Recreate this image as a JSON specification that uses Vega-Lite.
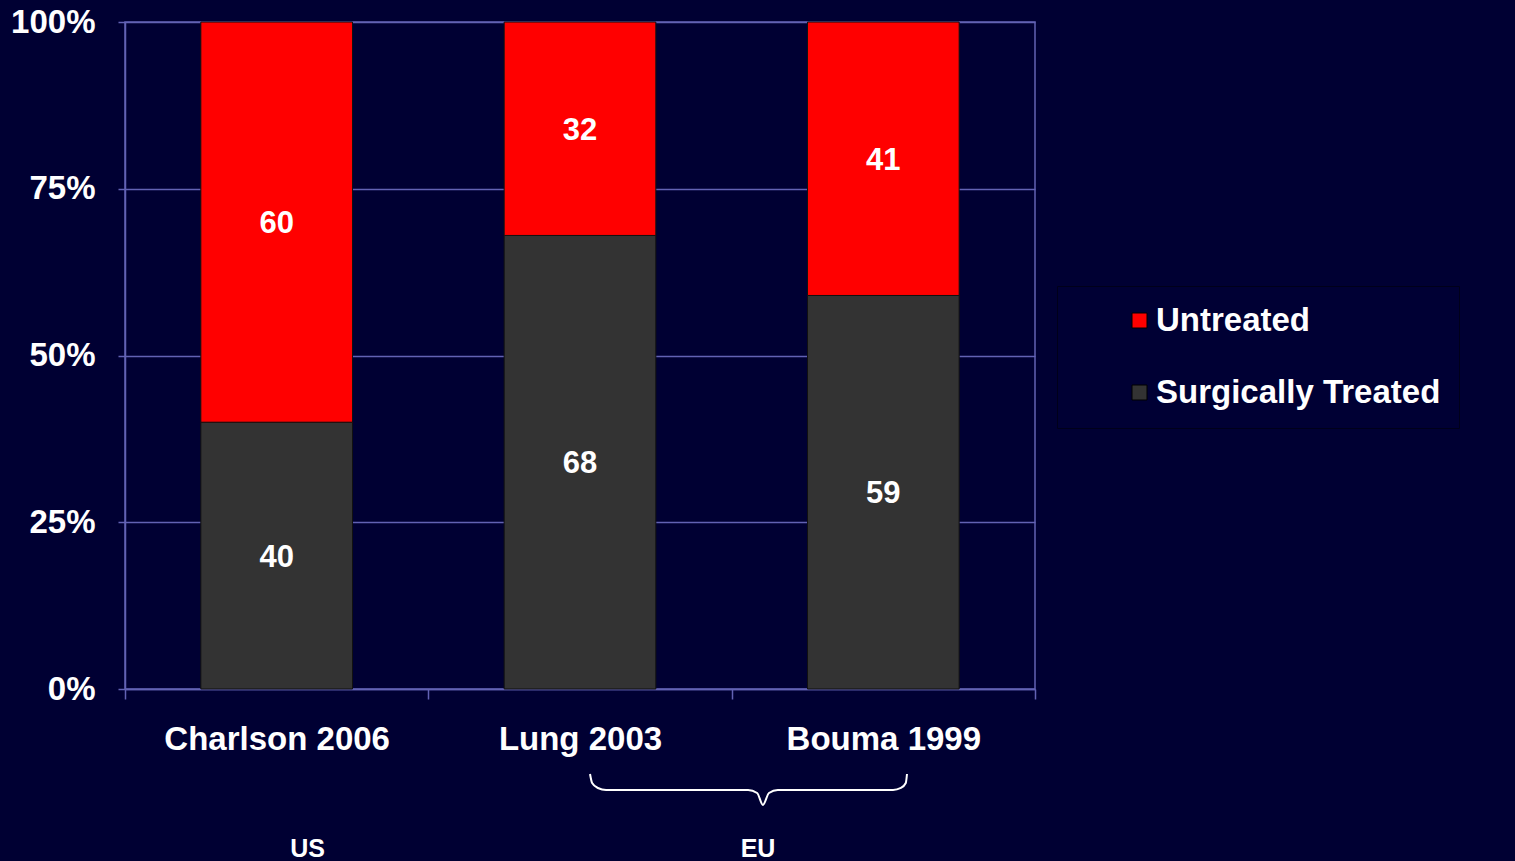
{
  "$schema": "https://vega.github.io/schema/vega-lite/v6.json",
  "width": 910,
  "height": 667,
  "autosize": {"type": "none"},
  "padding": {"left": 125, "top": 22, "right": 480, "bottom": 172},
  "background": "#000033",
  "config": {
    "font": "Liberation Sans",
    "view": {"stroke": "#6262b4", "strokeWidth": 1.5},
    "axis": {
      "labelColor": "#ffffff",
      "labelFont": "Liberation Sans",
      "labelFontWeight": "bold",
      "labelFontSize": 33,
      "domainColor": "#6262b4",
      "tickColor": "#6262b4",
      "gridColor": "#6262b4",
      "domainWidth": 1.5,
      "tickWidth": 1.5,
      "gridWidth": 1.5
    }
  },
  "datasets": {
    "shares": [
      {"study": "Charlson 2006", "category": "Surgically Treated", "pct": 40},
      {"study": "Charlson 2006", "category": "Untreated", "pct": 60},
      {"study": "Lung 2003", "category": "Surgically Treated", "pct": 68},
      {"study": "Lung 2003", "category": "Untreated", "pct": 32},
      {"study": "Bouma 1999", "category": "Surgically Treated", "pct": 59},
      {"study": "Bouma 1999", "category": "Untreated", "pct": 41}
    ],
    "bracket": [
      {"bx": 1.533, "by": -12.74},
      {"bx": 1.540, "by": -14.09},
      {"bx": 1.559, "by": -14.84},
      {"bx": 1.586, "by": -15.14},
      {"bx": 2.054, "by": -15.14},
      {"bx": 2.084, "by": -15.59},
      {"bx": 2.103, "by": -17.39},
      {"bx": 2.123, "by": -15.59},
      {"bx": 2.152, "by": -15.14},
      {"bx": 2.532, "by": -15.14},
      {"bx": 2.558, "by": -14.84},
      {"bx": 2.574, "by": -14.09},
      {"bx": 2.578, "by": -12.74}
    ],
    "regions": [
      {"region": "US", "rx": 0.602, "ry": -25.2},
      {"region": "EU", "rx": 2.087, "ry": -25.2}
    ]
  },
  "layer": [
    {
      "data": {"name": "shares"},
      "mark": {"type": "bar", "stroke": "#111111", "strokeWidth": 1, "width": {"band": 0.5}},
      "encoding": {
        "x": {
          "field": "study", "type": "nominal", "sort": null,
          "scale": {"paddingInner": 0, "paddingOuter": 0},
          "axis": {"title": null, "labelAngle": 0, "tickBand": "extent", "tickSize": 10, "labelPadding": 24, "grid": false, "labelLimit": 0}
        },
        "y": {
          "field": "pct", "type": "quantitative", "stack": "zero",
          "scale": {"domain": [0, 100], "nice": false},
          "axis": {"title": null, "values": [0, 25, 50, 75, 100], "labelExpr": "datum.value + '%'", "tickSize": 7, "labelPadding": 23, "grid": true}
        },
        "color": {
          "field": "category", "type": "nominal",
          "scale": {"domain": ["Untreated", "Surgically Treated"], "range": ["#ff0000", "#333333"]},
          "legend": {
            "title": null, "orient": "none", "legendX": 932, "legendY": 264,
            "padding": 18, "symbolOffset": 48, "symbolType": "square", "symbolSize": 225,
            "symbolStrokeColor": "#000000", "symbolStrokeWidth": 1,
            "labelFontSize": 33, "labelFont": "Liberation Sans", "labelFontWeight": "bold",
            "labelColor": "#ffffff", "labelOffset": 0, "rowPadding": 38,
            "strokeColor": "#00001a", "fillColor": "#000034", "labelLimit": 0
          }
        },
        "order": {"field": "category", "sort": "ascending"}
      }
    },
    {
      "data": {"name": "shares"},
      "transform": [
        {"stack": "pct", "groupby": ["study"], "sort": [{"field": "category", "order": "ascending"}], "as": ["y0", "y1"]},
        {"fold": ["y0", "y1"], "as": ["edge", "pos"]}
      ],
      "mark": {"type": "text", "color": "#ffffff", "font": "Liberation Sans", "fontWeight": "bold", "fontSize": 31, "baseline": "middle", "dy": 2},
      "encoding": {
        "x": {"field": "study", "type": "nominal", "sort": null, "scale": {"paddingInner": 0, "paddingOuter": 0}, "axis": null},
        "y": {
          "field": "pos", "aggregate": "mean", "type": "quantitative",
          "scale": {"domain": [0, 100], "nice": false},
          "axis": {"title": null, "values": [0, 25, 50, 75, 100], "labelExpr": "datum.value + '%'", "tickSize": 7, "labelPadding": 23, "grid": true}
        },
        "text": {"field": "pct", "type": "quantitative"},
        "detail": {"field": "category"}
      }
    },
    {
      "data": {"name": "bracket"},
      "mark": {"type": "line", "color": "#ffffff", "strokeWidth": 2, "interpolate": "monotone"},
      "encoding": {
        "x": {"field": "bx", "type": "quantitative", "scale": {"domain": [0, 3], "nice": false, "zero": false}, "axis": null},
        "y": {
          "field": "by", "type": "quantitative",
          "scale": {"domain": [0, 100], "nice": false},
          "axis": {"title": null, "values": [0, 25, 50, 75, 100], "labelExpr": "datum.value + '%'", "tickSize": 7, "labelPadding": 23, "grid": true}
        }
      }
    },
    {
      "data": {"name": "regions"},
      "mark": {"type": "text", "color": "#ffffff", "font": "Liberation Sans", "fontWeight": "bold", "fontSize": 25, "baseline": "alphabetic"},
      "encoding": {
        "x": {"field": "rx", "type": "quantitative", "scale": {"domain": [0, 3], "nice": false, "zero": false}, "axis": null},
        "y": {
          "field": "ry", "type": "quantitative",
          "scale": {"domain": [0, 100], "nice": false},
          "axis": {"title": null, "values": [0, 25, 50, 75, 100], "labelExpr": "datum.value + '%'", "tickSize": 7, "labelPadding": 23, "grid": true}
        },
        "text": {"field": "region"}
      }
    }
  ],
  "resolve": {"scale": {"x": "independent"}}
}
